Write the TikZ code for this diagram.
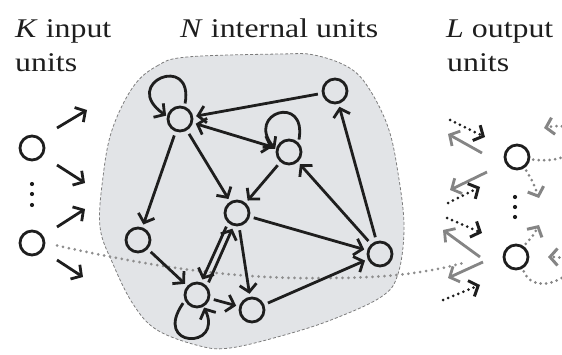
\documentclass[tikz,border=0pt]{standalone}
\usepackage{fontspec}
\setmainfont{Liberation Serif}[FakeStretch=1.18]
\usetikzlibrary{arrows.meta}
\definecolor{blobfill}{HTML}{E2E4E7}
\definecolor{blobline}{HTML}{7C7C7C}
\definecolor{inkc}{HTML}{1E1E1E}
\definecolor{greyarr}{HTML}{858585}
\definecolor{dotgrey}{HTML}{8E8E8E}
\begin{document}
\begin{tikzpicture}[x=1pt,y=1pt,
  >={Straight Barb[length=7.5pt,width=17pt]},
  unit/.style={circle,draw=inkc,line width=2.8pt,minimum size=24pt,inner sep=0pt},
  arr/.style={draw=inkc,line width=2.8pt,->,shorten >=3pt,shorten <=4pt},
  looparr/.style={draw=inkc,line width=2.8pt,->,shorten >=1pt,shorten <=3pt},
  darr/.style={draw=inkc,line width=3pt,->,line cap=round,dash pattern=on 0pt off 5.5pt},
  garr/.style={draw=greyarr,line width=2.8pt,->},
  gdarr/.style={draw=greyarr,line width=3pt,->,line cap=round,dash pattern=on 0pt off 5.5pt},
  gdot/.style={draw=dotgrey,line width=3pt,line cap=round,dash pattern=on 0pt off 6pt},
  lbl/.style={font=\fontsize{27}{30}\selectfont,anchor=base west,inner sep=0pt,text=inkc}
]
\path[use as bounding box] (0,0) rectangle (562,354);
\clip (0,0) rectangle (562,354);

% reservoir
\draw[fill=blobfill,draw=blobline,line width=0.8pt,densely dashed]
  plot[smooth cycle,tension=0.6] coordinates{
  (133,267) (157,288) (187,297) (281,300) (314,299) (348,287) (368,267)
  (388,227) (398,181) (404,127) (398,80) (381,57) (331,34) (281,18)
  (230,6) (200,8) (157,24) (133,50) (113,90) (100,127) (103,177) (112,224)};

% labels
\node[lbl] (k1) at (15,316) {\textit{K} input};
\node[lbl] (k2) at (15,282) {units};
\node[lbl] (n1) at (180,316) {\textit{N} internal units};
\node[lbl] (l1) at (446,316) {\textit{L} output};
\node[lbl] (l2) at (447,282) {units};

% units
\node[unit] (I1) at (32,206) {};
\node[unit] (I2) at (32,111) {};
\node[unit] (A) at (180,235) {};
\node[unit] (B) at (335,263) {};
\node[unit] (C) at (289,202) {};
\node[unit] (D) at (237,141) {};
\node[unit] (E) at (138,114) {};
\node[unit] (F) at (197,59) {};
\node[unit] (G) at (252,44) {};
\node[unit] (H) at (380,100) {};
\node[unit] (O1) at (517,197) {};
\node[unit] (O2) at (516,97) {};

% vertical dots
\fill[inkc] (32,170) circle (2.1) (32,160) circle (2.1) (32,149) circle (2.1);
\fill[inkc] (515,157) circle (2.1) (515,147) circle (2.1) (515,137) circle (2.1);

% dotted path from input through the reservoir
\coordinate (dotend) at (463,91);
\draw[gdot,shorten <=12pt] (I2.east) .. controls (140,90) and (230,74) .. (330,76)
  .. controls (390,76) and (430,82) .. (dotend);

% input arrows
\coordinate (a1s) at (57,226); \coordinate (a1e) at (87,244);
\coordinate (a2s) at (57,189); \coordinate (a2e) at (85,171);
\coordinate (a3s) at (57,127); \coordinate (a3e) at (85,145);
\coordinate (a4s) at (57,94);  \coordinate (a4e) at (83,77);
\draw[arr,shorten <=0pt,shorten >=0pt] (a1s) -- (a1e);
\draw[arr,shorten <=0pt,shorten >=0pt] (a2s) -- (a2e);
\draw[arr,shorten <=0pt,shorten >=0pt] (a3s) -- (a3e);
\draw[arr,shorten <=0pt,shorten >=0pt] (a4s) -- (a4e);

% internal connections
\draw[arr] (B) -- (A);
\draw[arr,<->] (C) -- (A);
\draw[arr] (A) -- (E);
\draw[arr] (A) -- (D);
\draw[arr] (C) -- (D);
\draw[arr] (H) -- (C);
\draw[arr] (H) -- (B);
\draw[arr] (D) -- (H);
\draw[arr] (G) -- (H);
\draw[arr] (D) -- (G);
\draw[arr] (D.228) -- (F.72);
\draw[arr] (F.42) -- (D.255);
\draw[arr] (E) -- (F);
\draw[arr] (F) -- (G);
% self loops
\draw[looparr] (A.70) .. controls +(80:55) and +(145:58) .. (A.168);
\draw[looparr] (C.45) .. controls +(80:50) and +(130:48) .. (C.170);
\draw[looparr] (F.205) .. controls +(235:58) and +(295:48) .. (F.300);

% output side arrows
\coordinate (p1s) at (450,234); \coordinate (p1e) at (485,217);
\coordinate (q1s) at (482,201); \coordinate (q1e) at (448,220);
\coordinate (q2s) at (487,182); \coordinate (q2e) at (450,164);
\coordinate (p2s) at (448,151); \coordinate (p2e) at (480,167);
\coordinate (p3s) at (447,136); \coordinate (p3e) at (482,121);
\coordinate (q3s) at (480,97);  \coordinate (q3e) at (443,124);
\coordinate (q4s) at (483,92);  \coordinate (q4e) at (448,76);
\coordinate (p4s) at (443,54);  \coordinate (p4e) at (480,69);
\draw[garr] (q1s) -- (q1e);
\draw[garr] (q2s) -- (q2e);
\draw[garr] (q3s) -- (q3e);
\draw[garr] (q4s) -- (q4e);
\draw[darr] (p1s) -- (p1e);
\draw[darr] (p2s) -- (p2e);
\draw[darr] (p3s) -- (p3e);
\draw[darr] (p4s) -- (p4e);

% connections among outputs
\coordinate (o12e) at (539,156);
\coordinate (o21e) at (539,129);
\coordinate (o1le) at (544,226);
\coordinate (o2le) at (548,97);
\draw[gdarr,shorten <=3pt] (O1.-55) .. controls (533,172) .. (o12e);
\draw[gdarr,shorten <=3pt] (O2.55) .. controls (533,118) .. (o21e);
\draw[gdarr,shorten <=3pt] (O1.-10) .. controls (590,188) and (590,236) .. (o1le);
\draw[gdarr,shorten <=3pt] (O2.-60) .. controls (538,48) and (605,97) .. (o2le);
\end{tikzpicture}
\end{document}
